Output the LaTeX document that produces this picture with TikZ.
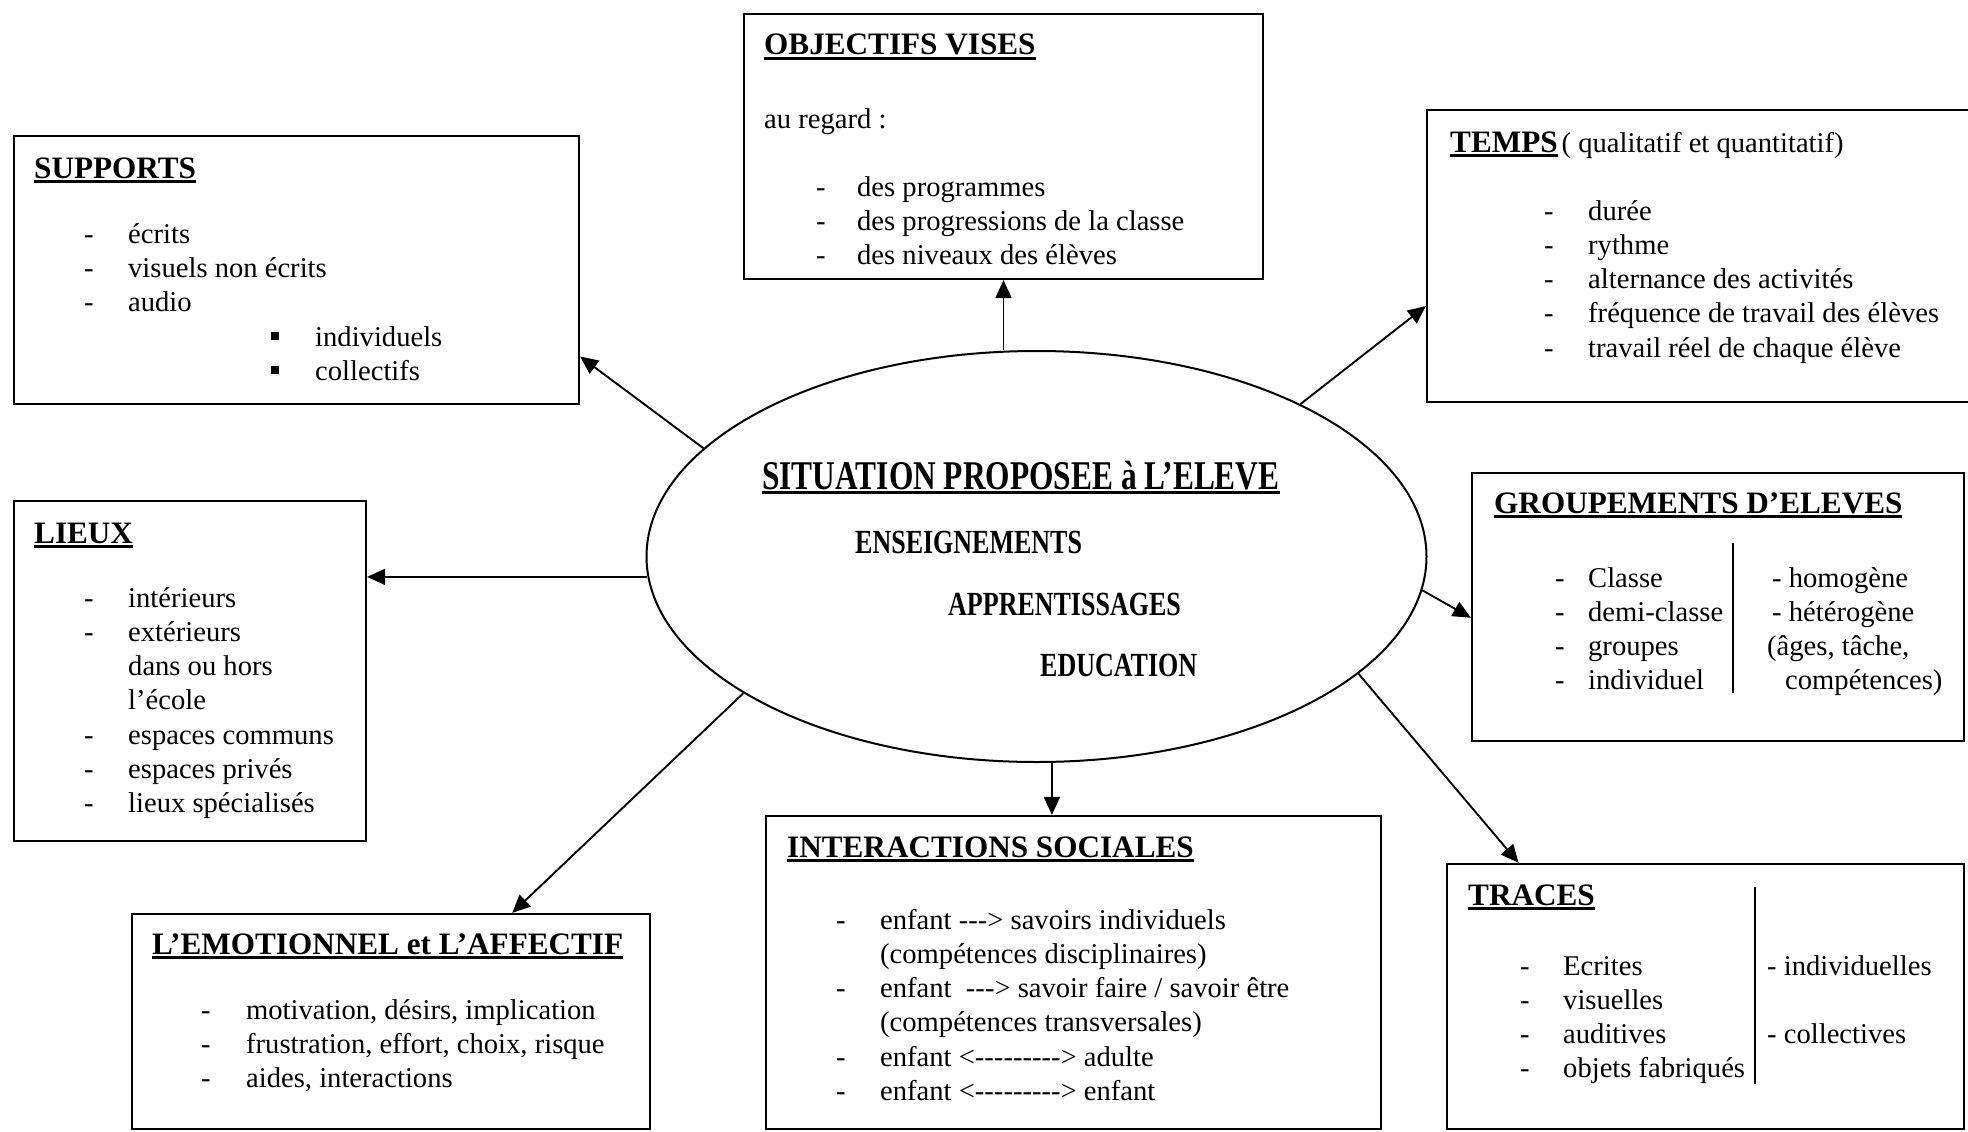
\documentclass[tikz,border=0pt]{standalone}
\usepackage{fontspec}
\setmainfont{Liberation Serif}[Ligatures=TeXOff]
\usepackage{graphicx}
\usetikzlibrary{shapes.geometric,arrows.meta,fit,calc}
\newcommand\ulin[1]{\setbox0\hbox{#1}\rlap{\rule[-5pt]{\wd0}{2.6pt}}\box0}
\newcommand\sqb{\rule[6pt]{8pt}{8pt}}
\tikzset{
  box/.style={draw, line width=2.2pt, inner sep=0pt},
  arr/.style={line width=1.9pt, -{Triangle[length=18pt,width=16pt]}},
  txt/.style={anchor=base west, inner sep=0pt, font=\fontsize{28.6}{34.3}\selectfont},
  ttl/.style={anchor=base west, inner sep=0pt, font=\fontsize{31.2}{36}\selectfont\bfseries},
  etx/.style={anchor=base west, inner sep=0pt, font=\fontsize{26}{30}\selectfont\bfseries},
}
\begin{document}
\begin{tikzpicture}[x=1pt,y=-1pt]
\clip (0,0) rectangle (1968,1132);
\fill[white] (0,0) rectangle (1968,1132);

% boxes
\node[box, fit={(744,14) (1263,279)}] (objectifs) {};
\node[box, fit={(14,136) (579,404)}] (supports) {};
\node[box, fit={(1427,110) (1995,402)}] (temps) {};
\node[box, fit={(14,501) (366,841)}] (lieux) {};
\node[box, fit={(1472,473) (1964,741)}] (groupements) {};
\node[box, fit={(766,816) (1381,1129)}] (interactions) {};
\node[box, fit={(132,914) (650,1129)}] (emotionnel) {};
\node[box, fit={(1447,864) (1964,1129)}] (traces) {};

% central ellipse
\node[draw, ellipse, line width=2pt, minimum width=780pt, minimum height=411pt, inner sep=0pt] (ell) at (1036.5,556.5) {};

% arrow targets
\coordinate (sT) at ($(supports.north east)!0.82!(supports.south east)$);
\coordinate (tT) at ($(temps.north west)!0.67!(temps.south west)$);
\coordinate (gT) at ($(groupements.north west)!0.54!(groupements.south west)$);
\coordinate (trT) at ($(traces.north west)!0.14!(traces.north east)$);
\coordinate (iT) at ($(interactions.north west)!0.465!(interactions.north east)$);
\coordinate (eT) at ($(emotionnel.north west)!0.733!(emotionnel.north east)$);

% connectors
\draw[arr] (ell.north -| objectifs.south) -- (objectifs.south);
\draw[arr] (ell.162) -- (sT);
\draw[arr] (ell.183) -- (ell.183 -| lieux.east);
\draw[arr] (ell.30) -- (tT);
\draw[arr] (ell.-5) -- (gT);
\draw[arr] (ell.-20) -- (trT);
\draw[arr] (ell.south -| iT) -- (iT);
\draw[arr] (ell.-155) -- (eT);

% ellipse text
\node[anchor=base west, inner sep=0pt, font=\fontsize{31.4}{36}\selectfont\bfseries] (sitT) at (762,489) {\ulin{\scalebox{1}[1.3]{SITUATION PROPOSEE à L’ELEVE}}};
\node[etx] (ens) at (855,553) {\scalebox{1}[1.3]{ENSEIGNEMENTS}};
\node[etx] (app) at (948,615) {\scalebox{1}[1.3]{APPRENTISSAGES}};
\node[etx] (edu) at (1040,676) {\scalebox{1}[1.3]{EDUCATION}};

% SUPPORTS
\node[ttl] (supT) at (34,178) {\ulin{SUPPORTS}};
\node[txt] (supL) at (84,243) {\begin{tabular}[t]{@{}p{44pt}@{}l@{}}-&écrits\\-&visuels non écrits\\-&audio\end{tabular}};
\node[txt] (supB) at (271,346) {\begin{tabular}[t]{@{}p{44pt}@{}l@{}}\sqb&individuels\\\sqb&collectifs\end{tabular}};

% OBJECTIFS
\node[ttl] (objT) at (764,55) {\ulin{OBJECTIFS VISES}};
\node[txt] (objR) at (764,128) {au regard :};
\node[txt] (objL) at (816,196) {\begin{tabular}[t]{@{}p{41pt}@{}l@{}}-&des programmes\\-&des progressions de la classe\\-&des niveaux des élèves\end{tabular}};

% TEMPS
\node[ttl] (temT) at (1450,152) {\ulin{TEMPS}\hspace{4pt}{\mdseries\fontsize{28.6}{34.3}\selectfont( qualitatif et quantitatif)}};
\node[txt] (temL) at (1544,220) {\begin{tabular}[t]{@{}p{44pt}@{}l@{}}-&durée\\-&rythme\\-&alternance des activités\\-&fréquence de travail des élèves\\-&travail réel de chaque élève\end{tabular}};

% GROUPEMENTS
\node[ttl] (groT) at (1494,513) {\ulin{GROUPEMENTS D’ELEVES}};
\node[txt] (groL) at (1555,587) {\begin{tabular}[t]{@{}p{33pt}@{}l@{}}-&Classe\\-&demi-classe\\-&groupes\\-&individuel\end{tabular}};
\node[txt] (groR) at (1767,587) {\begin{tabular}[t]{@{}l@{}}\hspace{5pt}- homogène\\\hspace{5pt}- hétérogène\\(âges, tâche,\\\hspace{18pt}compétences)\end{tabular}};
\draw[line width=2pt] (1733,543) -- (1733,693);

% LIEUX
\node[ttl] (lieT) at (34,543) {\ulin{LIEUX}};
\node[txt] (lieL) at (84,607) {\begin{tabular}[t]{@{}p{44pt}@{}l@{}}-&intérieurs\\-&extérieurs\\&dans ou hors\\&l’école\\-&espaces communs\\-&espaces privés\\-&lieux spécialisés\end{tabular}};

% INTERACTIONS
\node[ttl] (intT) at (787,857) {\ulin{INTERACTIONS SOCIALES}};
\node[txt] (intL) at (836,929) {\begin{tabular}[t]{@{}p{44pt}@{}l@{}}-&enfant ---> savoirs individuels\\&(compétences disciplinaires)\\-&enfant\ \ ---> savoir faire / savoir être\\&(compétences transversales)\\-&enfant <---------> adulte\\-&enfant <---------> enfant\end{tabular}};

% EMOTIONNEL
\node[ttl] (emoT) at (152,954) {\ulin{L’EMOTIONNEL et L’AFFECTIF}};
\node[txt] (emoL) at (201,1019) {\begin{tabular}[t]{@{}p{45pt}@{}l@{}}-&motivation, désirs, implication\\-&frustration, effort, choix, risque\\-&aides, interactions\end{tabular}};

% TRACES
\node[ttl] (traT) at (1468,905) {\ulin{TRACES}};
\node[txt] (traL) at (1520,975) {\begin{tabular}[t]{@{}p{43pt}@{}l@{}}-&Ecrites\\-&visuelles\\-&auditives\\-&objets fabriqués\end{tabular}};
\node[txt] (traR) at (1767,975) {\begin{tabular}[t]{@{}l@{}}- individuelles\\ \\- collectives\end{tabular}};
\draw[line width=2pt] (1755,887) -- (1755,1084);
\end{tikzpicture}
\end{document}
